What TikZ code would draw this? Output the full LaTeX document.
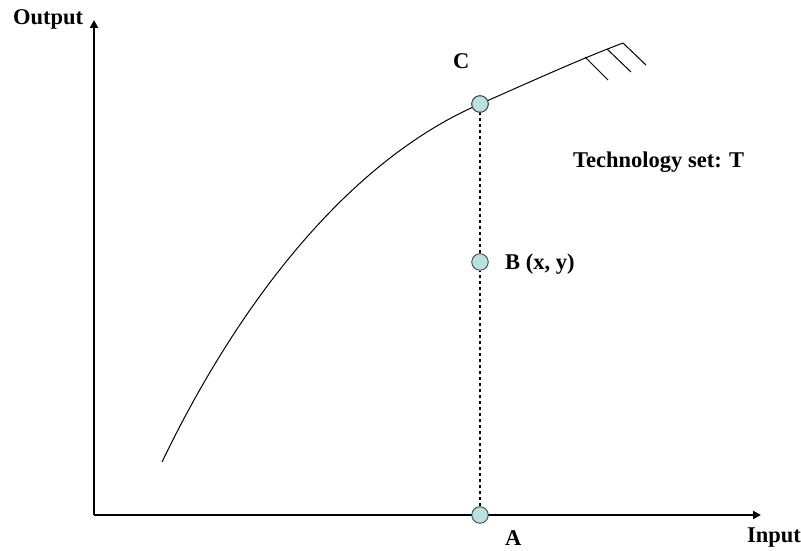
\documentclass[tikz,border=0pt]{standalone}
\usepackage{fontspec}
\setmainfont{Liberation Serif}
\usetikzlibrary{arrows.meta}
\definecolor{dotfill}{RGB}{185,225,226}
\tikzset{
  axis/.style={line width=2pt,-{Triangle[length=8pt,width=8pt]}},
  dot/.style={circle,draw=black!80,line width=0.8pt,fill=dotfill,minimum size=16.5pt,inner sep=0pt},
  lbl/.style={anchor=base west,inner sep=0pt,font=\fontsize{22.5}{26}\selectfont\bfseries},
  frontier/.style={line width=1pt},
  guide/.style={line width=1.7pt,dash pattern=on 3.5pt off 2.5pt}
}
\begin{document}
\begin{tikzpicture}[x=1pt,y=-1pt]
\useasboundingbox (0,0) rectangle (801,551);
\coordinate (O) at (94,515);
\coordinate (ytip) at (94,20);
\coordinate (xtip) at (761,515);
\draw[axis] (O) -- (ytip);
\draw[axis] (O) -- (xtip);
% points
\node[dot] (A) at (480,515) {};
\node[dot] (B) at (480,262) {};
\node[dot] (C) at (480,104) {};
% frontier
\coordinate (s) at (162,462);
\coordinate (e) at (623,43);
\draw[frontier] (s) .. controls (240,300) and (350,160) .. (C.center)
                    .. controls (530,82) and (578,60) .. (e);
% hatches
\coordinate (h1b) at (646,65);
\coordinate (h2a) at (607,49); \coordinate (h2b) at (631,72);
\coordinate (h3a) at (585,57); \coordinate (h3b) at (608,80);
\draw[frontier] (e) -- (h1b) (h2a) -- (h2b) (h3a) -- (h3b);
\node[dot] at (C) {};
\draw[guide] (A) -- (B);
\draw[guide] (B) -- (C);
% labels
\node[lbl] (lout) at (13,25) {Output};
\node[lbl] (lin) at (747,542) {Input};
\node[lbl] (lC) at (453,69) {C};
\node[lbl] (lB) at (505,269) {B (x, y)};
\node[lbl] (lA) at (505,545) {A};
\node[lbl] (lT) at (573,167) {Technology set: T};
\end{tikzpicture}
\end{document}
